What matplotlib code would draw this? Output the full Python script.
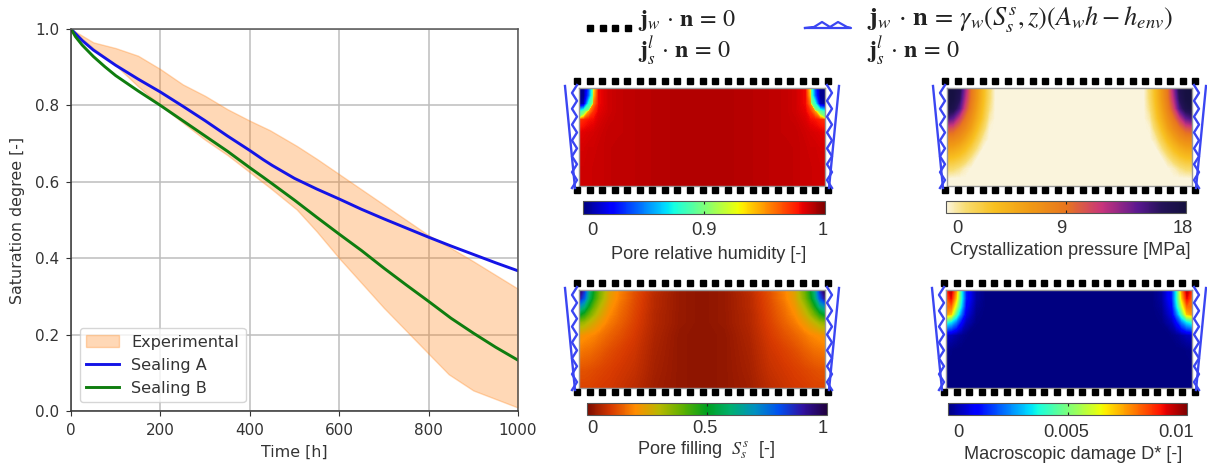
import matplotlib
matplotlib.use('Agg')
import matplotlib.pyplot as plt
import numpy as np
from matplotlib.cm import ScalarMappable
from matplotlib.colors import LinearSegmentedColormap, Normalize, TwoSlopeNorm

W, H = 1207, 465

# curves of the left plot
t_sim = [0, 10, 25, 50, 75, 100, 150, 200, 250, 300, 350, 400, 430, 450, 500, 550, 600, 650, 700, 750, 800, 850, 900, 950, 1000]
sealing_a = [1.0, .988, .970, .945, .925, .905, .869, .835, .798, .760, .720, .682, .658, .643, .609, .581, .555, .528, .503, .479, .455, .432, .410, .388, .367]
sealing_b = [1.0, .980, .958, .928, .902, .878, .838, .800, .760, .720, .680, .637, .612, .595, .552, .507, .463, .420, .374, .330, .287, .243, .204, .167, .133]

t_up = [0, 50, 100, 150, 200, 250, 300, 350, 400, 445, 505, 550, 600, 700, 800, 845, 900, 1000]
exp_up = [1.0, .965, .950, .930, .895, .855, .825, .790, .760, .735, .694, .660, .620, .540, .460, .430, .392, .320]
t_low = [0, 50, 100, 150, 200, 250, 300, 350, 400, 450, 516, 600, 700, 800, 840, 918, 1000]
exp_low = [1.0, .950, .905, .850, .800, .755, .710, .670, .625, .580, .517, .400, .270, .150, .100, .040, .009]

# field nodes on the left half of a panel (mirrored later), pixels from wall / from top
xn = [0, 5, 10, 15, 20, 30, 40, 55, 75, 100, 123]
yn = [0, 8, 16, 24, 32, 45, 60, 80, 98]
xp = [0, 6, 12, 18, 24, 30, 36, 42, 48, 60, 123]
yp = [0, 10, 20, 30, 40, 50, 60, 70, 80, 90, 98]

humidity = [
    [.02, .03, .35, .93, .980, .986, .988, .989, .990, .991, .991],
    [.02, .03, .40, .94, .980, .986, .988, .989, .990, .991, .991],
    [.03, .10, .72, .955, .980, .986, .988, .989, .990, .991, .991],
    [.72, .88, .95, .972, .982, .986, .988, .989, .990, .991, .991],
    [.97, .974, .978, .980, .984, .987, .988, .989, .990, .991, .991],
    [.982, .983, .984, .985, .986, .988, .988, .989, .990, .991, .991],
    [.985, .985, .986, .986, .987, .988, .989, .989, .990, .991, .991],
    [.986, .986, .986, .987, .987, .988, .989, .989, .990, .991, .991],
    [.986, .986, .986, .987, .987, .988, .989, .989, .990, .991, .991],
]
pressure = [
    [18, 17.7, 17, 13, 9, 6.5, 4, 1.8, 0, 0, 0],
    [17.8, 17.7, 16.4, 12.2, 8.75, 6.3, 3.85, 1.7, 0, 0, 0],
    [17.5, 17, 15, 10.9, 8.1, 5.7, 3.45, 1.3, 0, 0, 0],
    [15.1, 14.1, 11.5, 9, 7, 4.9, 2.9, .7, 0, 0, 0],
    [10.8, 10.3, 8.9, 7.5, 5.8, 3.75, 1.9, .15, 0, 0, 0],
    [8, 7.75, 7, 5.7, 4.2, 2.5, .8, 0, 0, 0, 0],
    [5.8, 5.6, 4.9, 3.85, 2.6, 1.15, 0, 0, 0, 0, 0],
    [3.7, 3.5, 3, 2.15, 1, 0, 0, 0, 0, 0, 0],
    [1.8, 1.65, 1.15, .4, 0, 0, 0, 0, 0, 0, 0],
    [.1, 0, 0, 0, 0, 0, 0, 0, 0, 0, 0],
    [0, 0, 0, 0, 0, 0, 0, 0, 0, 0, 0],
]
filling = [
    [1.0, .85, .62, .48, .38, .25, .19, .13, .07, .03, .02],
    [.90, .78, .58, .45, .36, .24, .185, .125, .065, .03, .02],
    [.70, .62, .48, .38, .31, .22, .17, .12, .065, .03, .02],
    [.52, .46, .38, .32, .27, .20, .16, .115, .06, .03, .02],
    [.35, .33, .29, .26, .23, .18, .15, .11, .06, .03, .02],
    [.22, .21, .20, .19, .175, .15, .13, .10, .055, .025, .02],
    [.18, .17, .165, .155, .145, .125, .11, .09, .05, .025, .02],
    [.13, .13, .125, .12, .115, .105, .095, .08, .045, .025, .02],
    [.11, .11, .11, .105, .10, .095, .085, .07, .04, .025, .02],
]
damage = [
    [.0085, .0095, .0075, .0040, .0015, .0003, 0, 0, 0, 0, 0],
    [.0080, .0090, .0070, .0040, .0015, .0003, 0, 0, 0, 0, 0],
    [.0080, .0080, .0060, .0035, .0012, .0002, 0, 0, 0, 0, 0],
    [.0075, .0070, .0045, .0025, .0009, .0001, 0, 0, 0, 0, 0],
    [.0040, .0035, .0025, .0013, .0005, .00005, 0, 0, 0, 0, 0],
    [.0006, .0005, .0003, .00015, .00005, 0, 0, 0, 0, 0, 0],
    [.0001, .00005, 0, 0, 0, 0, 0, 0, 0, 0, 0],
    [0, 0, 0, 0, 0, 0, 0, 0, 0, 0, 0],
    [0, 0, 0, 0, 0, 0, 0, 0, 0, 0, 0],
]

cream_cmap = LinearSegmentedColormap.from_list('cream', [(0, '#faf4dc'), (.08, '#f8dc70'), (.2, '#f8c020'), (.35, '#f09a14'),
                                                        (.5, '#e8761e'), (.65, '#c8347c'), (.8, '#5a1890'), (.9, '#241258'), (1, '#14103f')])
fill_cmap = LinearSegmentedColormap.from_list('fill', ['#7d0c00', '#d83a00', '#ff8c00', '#b8b800', '#5cb000', '#00a020', '#00b070', '#0090c0', '#0050f0', '#3010a0', '#200040'])

plt.rcParams['font.family'] = 'DejaVu Sans'
plt.rcParams['mathtext.fontset'] = 'stix'
fig = plt.figure(figsize=(W / 100, H / 100), dpi=100)


def add_ax(l, t, r, b):
    return fig.add_axes([l / W, 1 - b / H, (r - l) / W, (b - t) / H])


# left plot
ax = add_ax(71, 29, 518, 411)
ax.fill_between(t_up, exp_up, np.interp(t_up, t_low, exp_low), color='tab:orange', alpha=0.3, label='Experimental')
ax.plot(t_sim, sealing_a, color='#1414e6', lw=2.1, label='Sealing A')
ax.plot(t_sim, sealing_b, color='#0f7d0f', lw=2.1, label='Sealing B')
ax.set_xlim(0, 1000)
ax.set_ylim(0, 1)
ax.grid(True, color='#bdbdbd', lw=1.1)
ax.set_axisbelow(True)
ax.tick_params(labelsize=11, labelcolor='#333333', color='#333333', pad=5)
ax.set_xlabel('Time [h]', fontsize=11.4, color='#333333', labelpad=5)
ax.set_ylabel('Saturation degree [-]', fontsize=11.4, color='#333333', labelpad=7)
for s in ax.spines.values():
    s.set_color('#555555')
    s.set_linewidth(1.1)
ax.spines['left'].set_color('#333333')
ax.spines['bottom'].set_color('#333333')
ax.legend(loc='lower left', fontsize=11.6, labelcolor='#333333', borderaxespad=0.55)

# overlay in picture pixels for the boundary symbols and the text
ov = fig.add_axes([0, 0, 1, 1], zorder=5)
ov.set_xlim(0, W)
ov.set_ylim(H, 0)
ov.axis('off')

BLUE = '#3b46f2'


def mirror_x(nodes):
    return np.array(nodes + [246 - v for v in nodes[-2::-1]])


def walls(l, r, t, b):
    xs = np.linspace(l - 2, r + 3, 21)
    for y in (t - 7, b + 4):
        ov.plot(xs, [y] * 21, ls='none', marker='s', ms=4.2, color='black', mec='black')
    ys = np.linspace(t - 3, b + 2, 14)
    for wall, sign in ((l, -1), (r, 1)):
        zig = wall + sign * np.where(np.arange(14) % 2 == 0, 2, 7)
        ov.plot(zig, ys, color=BLUE, lw=1.7)
        ov.plot([wall + sign * 14, wall + sign * 4], [t - 2, b + 2], color=BLUE, lw=1.7)


def panel(field, x_nodes, y_nodes, norm, cmap, box, bar, ticks, tick_x, tick_dy, label, label_x, label_dy):
    l, t, r, b = box
    a = add_ax(l, t, r, b)
    z = np.array(field, dtype=float)
    z = np.hstack([z, z[:, -2::-1]])
    levels = norm.inverse(np.linspace(0, 1, 513))
    a.contourf(mirror_x(x_nodes), np.array(y_nodes), z, levels=levels, cmap=cmap, norm=norm, extend='both')
    a.set_ylim(98, 0)
    a.set_xticks([])
    a.set_yticks([])
    for s in a.spines.values():
        s.set_color('#9a9a9a')
        s.set_linewidth(1.0)
    walls(l, r, t, b)
    cax = add_ax(*bar)
    cb = fig.colorbar(ScalarMappable(norm=norm, cmap=cmap), cax=cax, orientation='horizontal')
    cb.set_ticks([ticks[1]])
    cb.set_ticklabels([''])
    cax.tick_params(length=2, width=0.8, direction='in', color='#222222', top=True)
    cb.outline.set_edgecolor('#555555')
    cb.outline.set_linewidth(0.8)
    for tx, tl in zip(tick_x, ticks):
        ov.text(tx, bar[3] + tick_dy, str(tl), ha='center', va='center', fontsize=13.2, color='#333333', family='Liberation Sans')
    ov.text(label_x, bar[3] + label_dy, label, ha='center', va='center', fontsize=13.1, color='#333333', family='Liberation Sans')


panel(humidity, xn, yn, TwoSlopeNorm(vmin=0, vcenter=0.9, vmax=1), 'jet', (579, 88, 825, 186), (583, 201, 825, 214),
      [0, 0.9, 1], [592, 704, 823], 16, 'Pore relative humidity [-]', 709, 40)
panel(pressure, xp, yp, Normalize(0, 18), cream_cmap, (947, 88, 1192, 186), (946, 201, 1186, 213),
      [0, 9, 18], [957, 1061, 1183], 15, 'Crystallization pressure [MPa]', 1070, 37)
panel(filling, xn, yn, Normalize(0, 1), fill_cmap, (579, 290, 825, 388), (587, 403, 827, 415),
      [0, 0.5, 1], [592, 705, 823], 13, 'Pore filling  $S_s^s$  [-]', 706, 35)
panel(damage, xn, yn, Normalize(0, 0.01), 'jet', (946, 290, 1192, 388), (948, 403, 1187, 415),
      [0, 0.005, 0.01], [958, 1066, 1176], 17, 'Macroscopic damage D* [-]', 1073, 39)

# boundary condition key
ov.plot(np.linspace(590, 628, 4), [28] * 4, ls='none', marker='s', ms=4.8, color='black')
ov.plot([805, 851, 847, 838, 830, 822, 814, 805], [28, 28, 27, 22, 27, 22, 27, 28], color=BLUE, lw=1.6)
ov.text(638, 26, r'$\mathbf{j}_w\,\cdot\,\mathbf{n}\,=\,0$', fontsize=17.3, color='#222222', va='baseline')
ov.text(638, 58, r'$\mathbf{j}_s^l\,\cdot\,\mathbf{n}\,=\,0$', fontsize=17.3, color='#222222', va='baseline')
ov.text(867, 26, r'$\mathbf{j}_w\,\cdot\,\mathbf{n}\,=\,\gamma_w(S_s^s,z)(A_wh-h_{env})$', fontsize=19, color='#222222', va='baseline')
ov.text(867, 58, r'$\mathbf{j}_s^l\,\cdot\,\mathbf{n}\,=\,0$', fontsize=17.3, color='#222222', va='baseline')

fig.savefig('out.png', dpi=100)
